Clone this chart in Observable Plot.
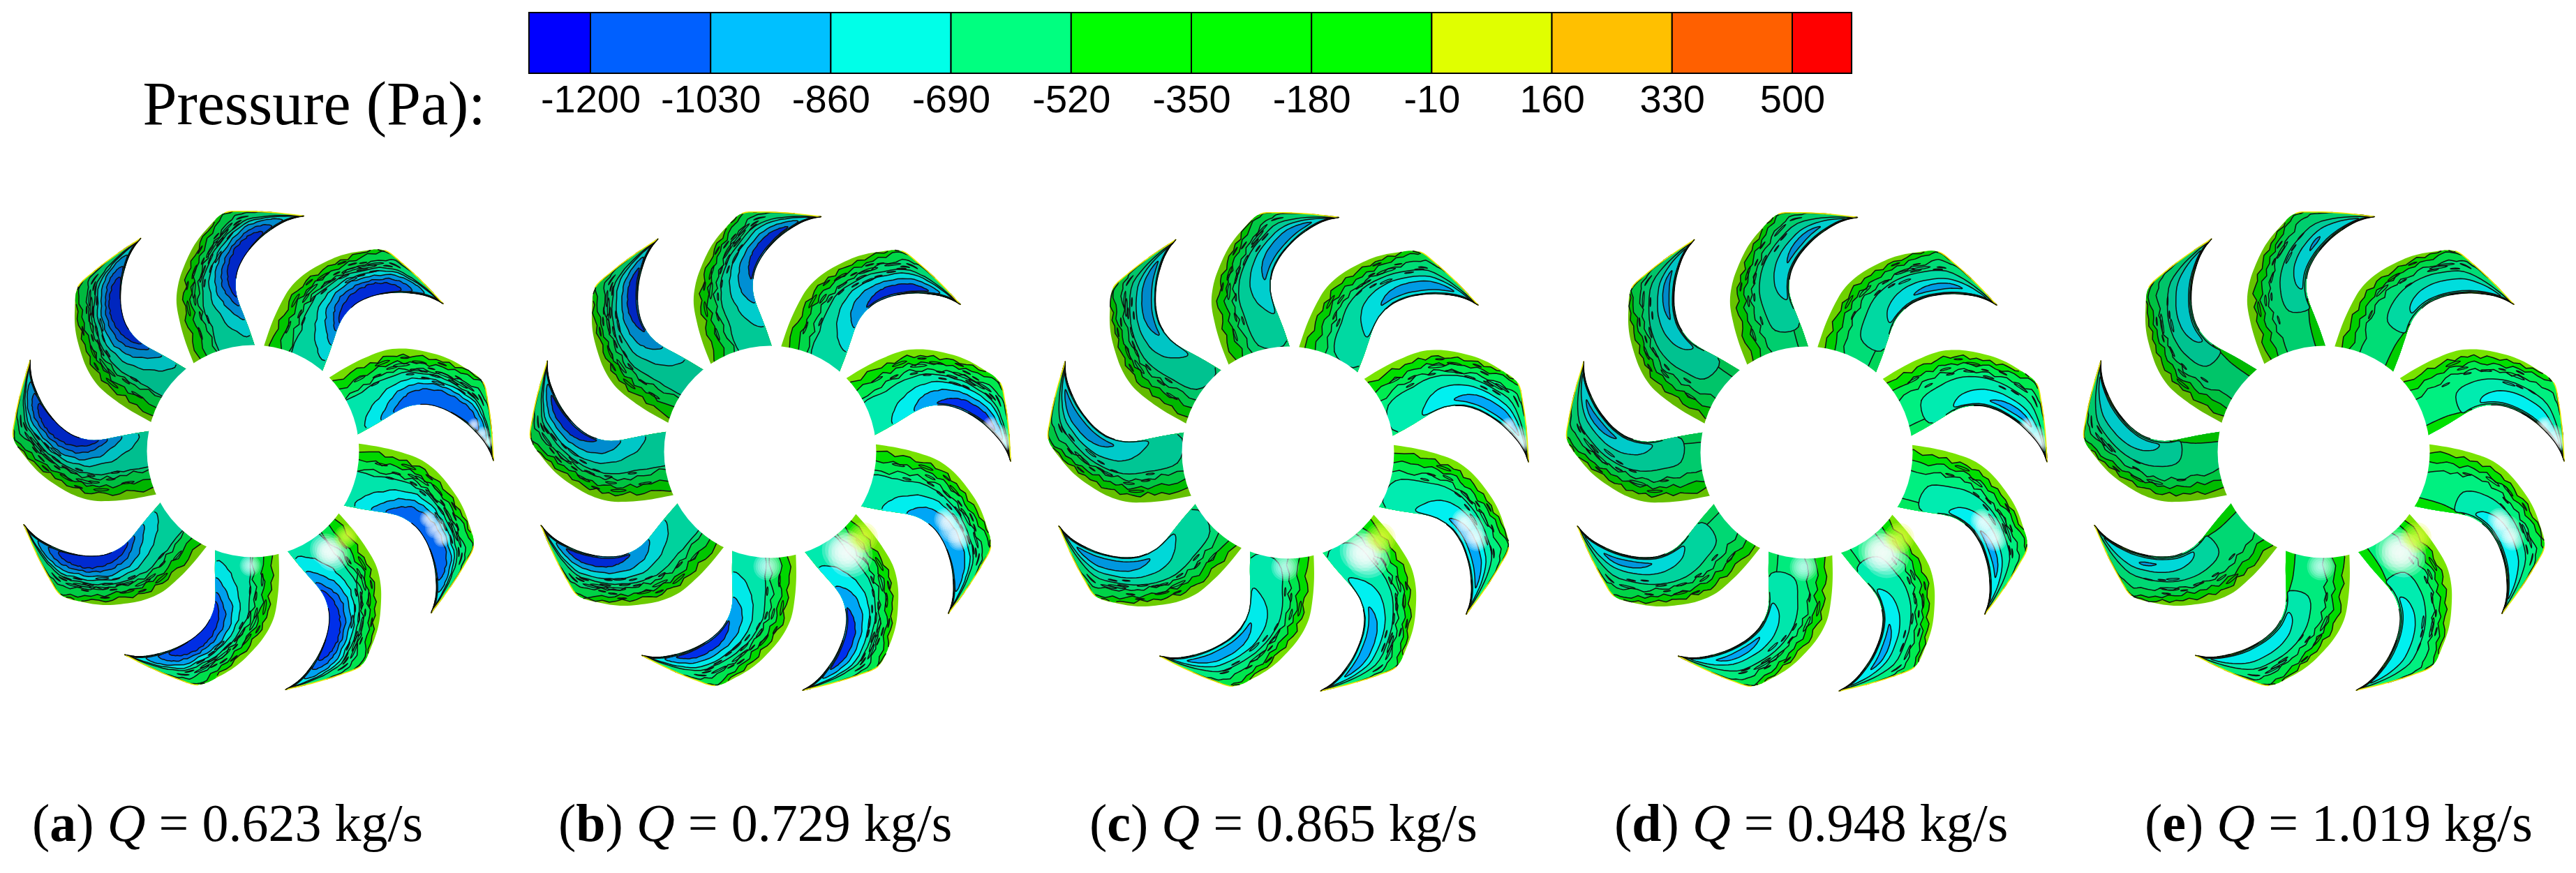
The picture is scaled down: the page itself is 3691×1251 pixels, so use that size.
<!DOCTYPE html>
<html><head><meta charset="utf-8">
<script src="https://cdn.jsdelivr.net/npm/d3@7"></script>
<script src="https://cdn.jsdelivr.net/npm/@observablehq/plot@0.6"></script>
<style>
html,body{margin:0;padding:0;background:#fff;width:3691px;height:1251px;overflow:hidden}
svg{display:block}
#caps{position:relative;width:3691px;height:181px}
#caps div{position:absolute;top:59px;font:76px/100px "Liberation Serif",serif;white-space:nowrap;color:#000}
</style></head><body><script>
// ---- colour bar
const barBreaks=[-1287,-1200,-1030,-860,-690,-520,-350,-180,-10,160,330,500,584];
const barColors=["#0000ff","#0060ff","#00c0ff","#00ffe8","#00ff80","#00ff00","#00ff00","#00ff00","#e0ff00","#ffc000","#ff6000","#ff0000"];
const barTicks=[-1200,-1030,-860,-690,-520,-350,-180,-10,160,330,500];
// ---- captions
const capLetters=["a","b","c","d","e"];
const capFlows=["0.623","0.729","0.865","0.948","1.019"];
const capLeft=[46,800,1561,2313,3073];
// ---- hub centres of the five impellers
const hubX=[362,1103,1845,2588,3329];
const hubY=[646,647,648,648,647];
const hubR=152;
// ---- one blade (crop px); node 0 at hub, last at tip
const concaveX=[382,350,325,302,291,297,320,355,410,480,535,585];
const concaveY=[640,545,480,420,365,300,245,195,140,92,68,57];
const outerX=[118,78,52,37,47,75,115,170,240,330,450,585];
const outerY=[708,605,515,425,340,260,180,110,45,37,42,57];
const nodeCX=366, nodeCY=1068, nodeScale=3;
// ---- long contours shared by all impellers: fraction of the width from concave edge
const line1=[.9,.89,.88,.88,.88,.88,.89,.92,.98,1,1,1,1];
const line2=[.74,.75,.76,.76,.76,.76,.78,.82,.9,.98,1,1,1];
const line3=[.56,.6,.63,.64,.64,.64,.65,.68,.73,.8,.92,1,1];
const wiggle=[.2,-.5,.6,.1,-.8,.4,.9,-.3,-.6,.5,.2,-.9,.7,.3,-.4,.8,-.2,-.7,.5,.9,-.1,-.6,.3,.7,-.8,.1,.6,-.4,.4,-.9,.8,.2,-.3,.6,-.7,.1,.9,-.5,.3,-.2,.7,-.8,.4,.5,-.6,-.1,.8,-.4,.2,.9,-.7,.3,-.3,.6,-.9,.5,.1,-.5,.7,-.2,.4,-.8,.6,0];
// ---- bands outer to inner
const bandColors=["#78e400","#00e000","#00ec50","#00f080","#00ecb0","#00f0f0","#00a8f8","#0068f8","#0030f0"];
// ---- closed low-pressure contours per impeller: [along, across]
const islandsA=[
 [[0,.5],[.15,.55],[.35,.58],[.55,.58],[.72,.57],[.85,.55],[.96,.45],[1,.2],[.95,0],[.6,0],[.3,0],[0,0]],
 [[.08,0],[.1,.22],[.22,.38],[.38,.47],[.55,.5],[.72,.5],[.85,.45],[.94,.32],[.96,.12],[.9,.01],[.6,0],[.3,0]],
 [[.16,0],[.2,.15],[.3,.3],[.45,.4],[.6,.42],[.74,.41],[.83,.34],[.86,.2],[.84,.05],[.7,0],[.4,0]],
 [[.25,0],[.3,.14],[.4,.26],[.55,.32],[.68,.32],[.76,.26],[.79,.13],[.76,.03],[.55,0]],
 [[.3,0],[.38,.12],[.5,.21],[.62,.25],[.7,.2],[.74,.09],[.7,.01],[.5,0]]];
const islandsB=[
 [[.02,.48],[.15,.52],[.35,.56],[.55,.56],[.72,.55],[.85,.52],[.96,.42],[1,.2],[.95,0],[.6,0],[.3,0],[.02,0]],
 [[.12,0],[.15,.2],[.26,.34],[.42,.43],[.58,.46],[.74,.46],[.85,.4],[.93,.28],[.95,.1],[.88,.02],[.6,0],[.3,0]],
 [[.27,0],[.3,.14],[.4,.26],[.55,.33],[.7,.34],[.8,.28],[.85,.16],[.82,.05],[.65,0],[.45,0]],
 [[.42,.03],[.48,.13],[.58,.21],[.7,.22],[.77,.15],[.78,.07],[.68,.04],[.55,.03]]];
const islandsC=[
 [[.06,.45],[.2,.52],[.38,.56],[.58,.56],[.75,.56],[.88,.5],[.97,.38],[1,.15],[.93,0],[.6,0],[.3,0],[.06,0]],
 [[.22,.02],[.24,.2],[.34,.34],[.5,.41],[.68,.42],[.82,.38],[.91,.26],[.93,.1],[.85,.02],[.55,.02]],
 [[.42,.1],[.46,.2],[.56,.28],[.7,.3],[.8,.25],[.83,.15],[.74,.1],[.58,.09]]];
const islandsD=[
 [[.12,.4],[.25,.48],[.42,.54],[.6,.55],[.78,.54],[.9,.48],[.98,.34],[.99,.12],[.9,.03],[.6,.02],[.3,.02],[.12,.03]],
 [[.3,.05],[.32,.18],[.42,.29],[.55,.35],[.7,.36],[.83,.32],[.91,.22],[.9,.08],[.75,.04],[.5,.04]],
 [[.52,.13],[.57,.2],[.66,.25],[.75,.23],[.78,.16],[.7,.12],[.6,.11]]];
const islandsE=[
 [[.22,.36],[.34,.45],[.48,.5],[.65,.52],[.8,.5],[.92,.42],[.98,.3],[.97,.1],[.85,.04],[.55,.03],[.3,.03],[.22,.05]],
 [[.36,.07],[.38,.18],[.47,.28],[.6,.33],[.74,.33],[.85,.27],[.9,.17],[.86,.08],[.65,.06],[.45,.06]],
 [[.6,.16],[.63,.21],[.67,.23],[.69,.2],[.66,.16]]];
const panelIslands=[islandsA,islandsB,islandsC,islandsD,islandsE];
const panelIslandBands=[[4,5,6,7,8],[4,5,6,8],[4,5,6],[4,5,6],[4,5,6]];
// innermost contours missing on a given blade, blade 0 = top, clockwise
const panelDrop=[[0,0,1,1,0,0,0,0,0],[0,0,0,1,0,0,0,0,0],[0,0,0,0,0,0,0,0,0],[0,0,0,0,0,0,0,0,0],[0,1,1,1,1,1,0,1,1]];
const panelJagOuter=[.04,.04,.04,.04,.04];
const panelJagInner=[.025,.015,.005,.003,.002];
const panelSpecks=[9,8,6,5,4];
const bladeShade=[.14,.08,0,0,0,.02,.1,.16,.18];
const panelShade=[.03,.01,0,0,0];
// thin bands hugging the concave edge at the tip and hub
const tipLens1=[[.62,0],[.78,.035],[.9,.09],[.97,.25],[1,.5],[1,0]];
const tipLens2=[[.75,0],[.88,.03],[.96,.1],[1,.3],[1,0]];
const hubWedge=[[0,0],[0,.14],[.12,.12],[.22,.05],[.28,0]];
const lens1Colors=["#00e8b0","#00e8b0","#00e890","#00e060","#60e000"];
const lens2Colors=["#00e890","#00e890","#40e040","#a8e000","#f0b000"];
const wedgeColors=[null,null,"#00ec80","#00e860","#00e000"];
// small closed loops in the noisy middle of a blade
const speckS=[.12,.2,.24,.3,.33,.37,.4,.42,.45,.48,.5,.53,.55,.58,.6,.62,.65,.67,.7,.28,.35,.44,.52,.57,.63,.72,.18,.76];
const speckT=[.74,.66,.82,.6,.72,.55,.63,.78,.5,.7,.58,.85,.66,.48,.6,.74,.52,.68,.57,.7,.84,.62,.46,.76,.64,.62,.56,.7];
const speckR=[4,3,5,3,6,3,4,5,3,2.5,4,3,7,3,4,2.5,3,5,3,4,3,3,5,3,6,3,3,4];
// light reflections
const glareBlade=[2,2,2,3,3,3,4,4,4,5];
const glareS=[.76,.82,.88,.48,.55,.62,.1,.14,.1,.07];
const glareT=[.1,.12,.16,.28,.3,.33,.48,.52,.84,.55];
const glareR=[12,14,12,16,20,16,30,32,22,20];
const glareColor=["#fff","#fff","#fff","#fff","#fff","#fff","#fff","#fff","#e8ff40","#e0ffff"];
const glareSteps=[1,.85,.7,.55,.4,.25];

// ---- geometry helpers
function cr(a,u){const n=a.length-1,f=Math.min(u,1)*n,i=Math.min(Math.floor(f),n-1),t=f-i,
 p0=a[Math.max(i-1,0)],p1=a[i],p2=a[i+1],p3=a[Math.min(i+2,n)];
 return .5*(2*p1+(p2-p0)*t+(2*p0-5*p1+4*p2-p3)*t*t+(3*p1-p0-3*p2+p3)*t*t*t);}
function crClosed(a,u){const n=a.length,f=u*n,i=Math.floor(f)%n,t=f-Math.floor(f),
 p0=a[(i-1+n)%n],p1=a[i],p2=a[(i+1)%n],p3=a[(i+2)%n];
 return .5*(2*p1+(p2-p0)*t+(2*p0-5*p1+4*p2-p3)*t*t+(3*p1-p0-3*p2+p3)*t*t*t);}
function jag(u,off){const f=(u*32+off)%wiggle.length,i=Math.floor(f),t=f-i;
 return wiggle[i]*(1-t)+wiggle[(i+1)%wiggle.length]*t;}
const clamp=v=>Math.max(0,Math.min(1,v));
function place(p,b,s,t){s=clamp(s);t=clamp(t);
 const cx=cr(concaveX,s),cy=cr(concaveY,s),ox=cr(outerX,s),oy=cr(outerY,s),
  lx=((cx+t*(ox-cx))-nodeCX)/nodeScale,ly=((cy+t*(oy-cy))-nodeCY)/nodeScale,
  a=b*40*Math.PI/180;
 return {x:hubX[p]+lx*Math.cos(a)-ly*Math.sin(a),y:hubY[p]+lx*Math.sin(a)+ly*Math.cos(a)};}

// ---- build the mark tables
const polys=[],edgesY=[],edgesK=[],specks=[],glares=[];
let uid=0;
const N=64, INK="#101010";
function shade(c,p,b){return d3.interpolateRgb(c,"#000")(Math.min(.5,bladeShade[b]+panelShade[p]));}
function pushFill(pts,fill){const id=uid++;for(const q of pts)polys.push({id,x:q.x,y:q.y,fill,stroke:"none"});}
function pushInk(segs){for(const seg of segs){if(seg.length<2)continue;const id=uid++;
 for(const q of seg)polys.push({id,x:q.x,y:q.y,fill:"none",stroke:INK});}}
function closedShape(p,b,src,fill,amp,off){
 const ss=src.map(d=>d[0]),ts=src.map(d=>d[1]),pts=[],segs=[];let cur=[];
 for(let i=0;i<=N;i++){const u=(i%N)/N,s=crClosed(ss,u),t=crClosed(ts,u)+amp*jag(u*1.6,off)*Math.min(1,Math.max(0,crClosed(ts,u))*4);
  const q=place(p,b,s,t);pts.push(q);
  if(t>.006&&t<.995&&s>.004&&s<.996)cur.push(q);else{segs.push(cur);cur=[];}}
 segs.push(cur);
 pushFill(pts,fill);pushInk(segs);}
for(let p=0;p<5;p++)for(let b=0;b<9;b++){
 const whole=[];
 for(let i=0;i<=N;i++)whole.push(place(p,b,i/N,0));
 for(let i=N;i>=0;i--)whole.push(place(p,b,i/N,1));
 pushFill(whole,shade(bandColors[0],p,b));
 [line1,line2,line3].forEach((ln,k)=>{
  const pts=[],segs=[];let cur=[];
  for(let i=0;i<=N;i++)pts.push(place(p,b,i/N,0));
  const back=[];
  for(let i=N;i>=0;i--){const u=i/N,t=cr(ln,u)+panelJagOuter[p]*jag(u,k*17+b*11+p*5);
   const q=place(p,b,u,t);back.push(q);
   if(t<.995)cur.push(q);else{segs.push(cur);cur=[];}}
  segs.push(cur);
  pushFill(pts.concat(back),shade(bandColors[k+1],p,b));pushInk(segs);
 });
 if(wedgeColors[p])closedShape(p,b,hubWedge,shade(wedgeColors[p],p,b),0,0);
 const isl=panelIslands[p],bands=panelIslandBands[p],keep=isl.length-panelDrop[p][b];
 for(let k=0;k<keep;k++)closedShape(p,b,isl[k],shade(bandColors[bands[k]],p,b),panelJagInner[p],k*13+b*7+p*3);
 closedShape(p,b,tipLens1,shade(lens1Colors[p],p,b),0,0);
 closedShape(p,b,tipLens2,shade(lens2Colors[p],p,b),0,0);
 for(let i=Math.round(N*.74);i<=N;i++)edgesY.push({id:p*9+b,...place(p,b,i/N,1)});
 for(let i=Math.round(N*.42);i<=N;i++)edgesK.push({id:p*9+b,...place(p,b,i/N,0)});
 speckS.forEach((s,i)=>{ if((i*3+b*5+p)%10<panelSpecks[p]){
   const ds=speckR[i]*.007,dt=speckR[i]*.0035,pid=specks.length;
   for(let k=0;k<=8;k++){const a=k%8*Math.PI/4;
    specks.push({id:pid,...place(p,b,s+ds*Math.cos(a),speckT[i]+dt*Math.sin(a))});}
 }});
 glareBlade.forEach((gb,i)=>{ if(gb===b){const q=place(p,b,glareS[i],glareT[i]);
   glareSteps.forEach(f=>glares.push({...q,r:glareR[i]*f*(p===0?.75:1),fill:glareColor[i]}));}});
}
const hubs=hubX.map((x,i)=>({x,y:hubY[i]}));

// ---- colour bar plot
const bar=Plot.plot({
 width:3691,height:245,marginTop:18,marginBottom:140,marginLeft:0,marginRight:0,
 style:{background:"#fff"},
 x:{domain:[-1200,500],range:[846,2568],axis:null},
 y:{domain:[0,1],range:[105,18],axis:null},
 color:{type:"identity"},
 marks:[
  Plot.rect(barColors,{x1:(d,i)=>barBreaks[i],x2:(d,i)=>barBreaks[i+1],y1:0,y2:1,fill:d=>d,stroke:"#000",strokeWidth:2}),
  Plot.axisX({anchor:"bottom",ticks:barTicks,tickSize:0,tickPadding:16,tickFormat:d=>String(d),
   fontSize:56,fontFamily:"Liberation Sans",fill:"#000",label:null}),
  Plot.text(["Pressure (Pa):"],{frameAnchor:"bottom-left",dx:204,dy:72,lineAnchor:"bottom",textAnchor:"start",
   fontSize:88,fontFamily:"Liberation Serif",fill:"#000"})
 ]});
document.body.append(bar);

// ---- impeller plot
const imp=Plot.plot({
 width:3691,height:825,margin:0,
 style:{background:"#fff"},
 x:{domain:[0,3691],range:[0,3691],axis:null},
 y:{domain:[245,1070],range:[0,825],axis:null},
 r:{type:"identity"},
 color:{type:"identity"},
 marks:[
  Plot.line(polys,{x:"x",y:"y",z:"id",fill:"fill",stroke:"stroke",strokeWidth:1.5,strokeLinejoin:"round",curve:"linear"}),
  Plot.line(specks,{x:"x",y:"y",z:"id",stroke:INK,strokeWidth:1.3,curve:"catmull-rom"}),
  Plot.dot(glares,{x:"x",y:"y",r:"r",fill:"fill",fillOpacity:.22,stroke:"none"}),
  Plot.line(edgesY,{x:"x",y:"y",z:"id",stroke:"#e8e800",strokeWidth:1.6}),
  Plot.line(edgesK,{x:"x",y:"y",z:"id",stroke:"#000",strokeWidth:1.2}),
  Plot.dot(hubs,{x:"x",y:"y",r:hubR,fill:"#fff",stroke:"none"})
 ]});
document.body.append(imp);

// ---- captions
const caps=document.createElement("div");caps.id="caps";
capLetters.forEach((l,i)=>{const d=document.createElement("div");d.style.left=capLeft[i]+"px";
 d.innerHTML=`(<b>${l}</b>) <i>Q</i> = ${capFlows[i]} kg/s`;caps.append(d);});
document.body.append(caps);
</script></body></html>
